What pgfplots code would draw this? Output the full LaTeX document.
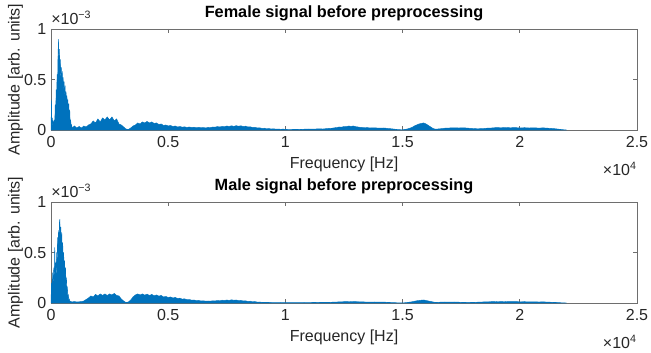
\documentclass[border=0pt]{standalone}
\usepackage{fontspec}
\setmainfont{Liberation Sans}
\usepackage{pgfplots}
\pgfplotsset{compat=1.18}
\definecolor{mblue}{RGB}{0,114,189}
\definecolor{axgray}{RGB}{110,110,110}
\pgfplotsset{myax/.style={
  scale only axis, width=439.5pt, height=75.75pt,
  xmin=0, xmax=25000, ymin=0, ymax=1,
  xtick={0,5000,10000,15000,20000,25000},
  xticklabels={0,0.5,1,1.5,2,2.5},
  ytick={0,0.5,1}, yticklabels={0,0.5,1},
  scaled ticks=false, clip=false,
  tick align=inside, tick pos=both, major tick length=3pt,
  axis line style={axgray, line width=0.5pt},
  tick style={axgray, line width=0.5pt},
  /pgf/number format/assume math mode=true,
  tick label style={font=\fontsize{12}{14}\selectfont, text=black!85},
  xticklabel style={yshift=-1.5pt},
  label style={font=\fontsize{12}{14}\selectfont, text=black!85},
  title style={font=\bfseries\fontsize{12.2}{14}\selectfont, yshift=-3.5pt},
  xlabel={Frequency [Hz]},
  ylabel={Amplitude [arb. units]},
  xlabel style={yshift=0pt},
  ylabel style={yshift=-6pt},
}}
\begin{document}
\begin{tikzpicture}
\path[use as bounding box] (-38.25pt,21.75pt) rectangle (450pt,-243pt);
\begin{axis}[myax, at={(0,0)}, anchor=north west, title={Female signal before preprocessing}]
\addplot[fill=mblue, draw=mblue, line width=0.3pt] coordinates {
(0,0) (20,0.30) (40,0.05) (60,0.12) (80,0.03) (100,0.08) (120,0.04) (140,0.10) (160,0.06) (180,0.25)
(200,0.15) (220,0.40) (240,0.30) (260,0.55) (280,0.45) (300,0.75) (320,0.90) (340,0.60) (360,0.80) (380,0.55)
(400,0.70) (420,0.50) (440,0.62) (460,0.45) (480,0.58) (500,0.40) (520,0.52) (540,0.36) (560,0.48) (580,0.32)
(600,0.44) (620,0.30) (640,0.38) (660,0.26) (680,0.34) (700,0.22) (720,0.30) (740,0.18) (760,0.26) (780,0.12)
(800,0.20) (820,0.06) (840,0.10) (860,0.03) (880,0.05) (900,0.02)
(1000,0.04) (1100,0.02) (1200,0.035) (1300,0.02) (1400,0.04) (1500,0.03) (1600,0.05) (1700,0.06) (1800,0.09) (1900,0.07)
(2000,0.11) (2100,0.08) (2200,0.12) (2300,0.10) (2400,0.13) (2500,0.10) (2600,0.13) (2700,0.09) (2800,0.11) (2900,0.06)
(3000,0.05) (3100,0.03) (3200,0.01) (3300,0.005) (3400,0.02) (3500,0.04) (3600,0.05) (3700,0.07) (3800,0.06) (3900,0.08)
(4000,0.07) (4100,0.085) (4200,0.07) (4300,0.08) (4400,0.065) (4500,0.07) (4600,0.055) (4700,0.06) (4800,0.045) (4900,0.05)
(5000,0.04) (5100,0.045) (5200,0.035) (5300,0.04) (5400,0.03) (5500,0.035) (5600,0.028) (5700,0.032) (5800,0.025) (5900,0.03)
(6000,0.025) (6100,0.028) (6200,0.022) (6300,0.027) (6400,0.022) (6500,0.025) (6600,0.02) (6700,0.026) (6800,0.024) (6900,0.03)
(7000,0.028) (7100,0.034) (7200,0.03) (7300,0.036) (7400,0.032) (7500,0.04) (7600,0.035) (7700,0.042) (7800,0.036) (7900,0.043)
(8000,0.037) (8100,0.042) (8200,0.035) (8300,0.038) (8400,0.03) (8500,0.032) (8600,0.025) (8700,0.027) (8800,0.02) (8900,0.022)
(9000,0.016) (9100,0.018) (9200,0.012) (9300,0.014) (9400,0.01) (9500,0.012) (9600,0.008) (9700,0.01) (9800,0.007) (9900,0.009)
(10000,0.006) (10200,0.004) (10400,0.007) (10600,0.005) (10800,0.008) (11000,0.01) (11200,0.008) (11400,0.012) (11600,0.01) (11800,0.015)
(12000,0.018) (12100,0.022) (12200,0.025) (12300,0.03) (12400,0.028) (12500,0.035) (12600,0.033) (12700,0.04) (12800,0.036) (12900,0.04)
(13000,0.033) (13100,0.03) (13200,0.026) (13300,0.025) (13400,0.022) (13500,0.024) (13600,0.02) (13800,0.022) (14000,0.018) (14200,0.02)
(14400,0.015) (14600,0.01) (14800,0.004) (15000,0.002) (15200,0.01) (15400,0.025) (15500,0.04) (15600,0.05) (15700,0.06) (15800,0.065)
(15900,0.07) (16000,0.06) (16100,0.045) (16200,0.03) (16300,0.015) (16400,0.008) (16600,0.012) (16800,0.018) (17000,0.02) (17200,0.022)
(17400,0.02) (17600,0.022) (17800,0.018) (18000,0.015) (18200,0.012) (18400,0.014) (18600,0.018) (18800,0.02) (19000,0.024) (19200,0.022)
(19400,0.025) (19600,0.022) (19800,0.024) (20000,0.02) (20200,0.023) (20400,0.02) (20600,0.022) (20800,0.019) (21000,0.021) (21200,0.018)
(21400,0.015) (21600,0.01) (21800,0.004) (22000,0)
} \closedcycle;
\node[anchor=south west, inner sep=0pt, font=\fontsize{12}{14}\selectfont, text=black!85] at (rel axis cs:0,1) [yshift=3pt] {×10\textsuperscript{−3}};
\node[anchor=north east, inner sep=0pt, font=\fontsize{12}{14}\selectfont, text=black!85] at (rel axis cs:1,0) [yshift=-24pt] {×10\textsuperscript{4}};
\end{axis}
\begin{axis}[myax, at={(0,-129.75pt)}, anchor=north west, title={Male signal before preprocessing}]
\addplot[fill=mblue, draw=mblue, line width=0.3pt] coordinates {
(0,0) (20,0.20) (40,0.08) (60,0.30) (80,0.10) (100,0.25) (120,0.35) (140,0.20) (160,0.55) (180,0.30)
(200,0.40) (220,0.25) (240,0.50) (260,0.35) (280,0.65) (300,0.50) (320,0.72) (340,0.55) (360,0.80) (380,0.83)
(400,0.60) (420,0.75) (440,0.55) (460,0.70) (480,0.45) (500,0.60) (520,0.40) (540,0.50) (560,0.35) (580,0.42)
(600,0.28) (620,0.35) (640,0.20) (660,0.25) (680,0.12) (700,0.15) (720,0.06) (740,0.08) (760,0.03) (780,0.04)
(800,0.02) (900,0.01) (1000,0.015) (1100,0.01) (1200,0.012) (1300,0.015) (1400,0.02) (1500,0.035) (1600,0.05) (1700,0.07)
(1800,0.06) (1900,0.085) (2000,0.07) (2100,0.09) (2200,0.075) (2300,0.09) (2400,0.075) (2500,0.09) (2600,0.08) (2700,0.095)
(2800,0.075) (2900,0.07) (3000,0.04) (3100,0.02) (3200,0.005) (3300,0.01) (3400,0.03) (3500,0.06) (3600,0.08) (3700,0.09)
(3800,0.08) (3900,0.09) (4000,0.078) (4100,0.088) (4200,0.075) (4300,0.085) (4400,0.072) (4500,0.08) (4600,0.068) (4700,0.075)
(4800,0.06) (4900,0.065) (5000,0.055) (5100,0.06) (5200,0.05) (5300,0.055) (5400,0.045) (5500,0.048) (5600,0.038) (5700,0.042)
(5800,0.032) (5900,0.035) (6000,0.028) (6100,0.03) (6200,0.024) (6300,0.026) (6400,0.02) (6500,0.022) (6600,0.018) (6700,0.02)
(6800,0.018) (6900,0.022) (7000,0.02) (7100,0.025) (7200,0.022) (7300,0.028) (7400,0.025) (7500,0.03) (7600,0.026) (7700,0.032)
(7800,0.027) (7900,0.03) (8000,0.024) (8100,0.026) (8200,0.02) (8300,0.022) (8400,0.016) (8500,0.018) (8600,0.012) (8700,0.014)
(8800,0.009) (8900,0.01) (9000,0.007) (9200,0.006) (9400,0.005) (9600,0.004) (9800,0.005) (10000,0.003) (10200,0.004) (10400,0.003)
(10600,0.004) (10800,0.005) (11000,0.004) (11200,0.006) (11400,0.005) (11600,0.007) (11800,0.006) (12000,0.008) (12200,0.01) (12400,0.012)
(12600,0.014) (12800,0.015) (13000,0.013) (13200,0.012) (13400,0.01) (13600,0.009) (13800,0.01) (14000,0.008) (14200,0.009) (14400,0.006)
(14600,0.004) (14800,0.002) (15000,0.001) (15200,0.005) (15400,0.012) (15600,0.022) (15800,0.028) (15900,0.03) (16000,0.025) (16200,0.015)
(16400,0.006) (16600,0.008) (16800,0.01) (17000,0.009) (17200,0.01) (17400,0.008) (17600,0.006) (17800,0.005) (18000,0.006) (18200,0.008)
(18400,0.01) (18600,0.012) (18800,0.013) (19000,0.015) (19200,0.014) (19400,0.015) (19600,0.013) (19800,0.014) (20000,0.012) (20200,0.013)
(20400,0.011) (20600,0.012) (20800,0.01) (21000,0.011) (21200,0.009) (21400,0.007) (21600,0.005) (21800,0.002) (22000,0)
} \closedcycle;
\node[anchor=south west, inner sep=0pt, font=\fontsize{12}{14}\selectfont, text=black!85] at (rel axis cs:0,1) [yshift=3pt] {×10\textsuperscript{−3}};
\node[anchor=north east, inner sep=0pt, font=\fontsize{12}{14}\selectfont, text=black!85] at (rel axis cs:1,0) [yshift=-24pt] {×10\textsuperscript{4}};
\end{axis}
\end{tikzpicture}
\end{document}
